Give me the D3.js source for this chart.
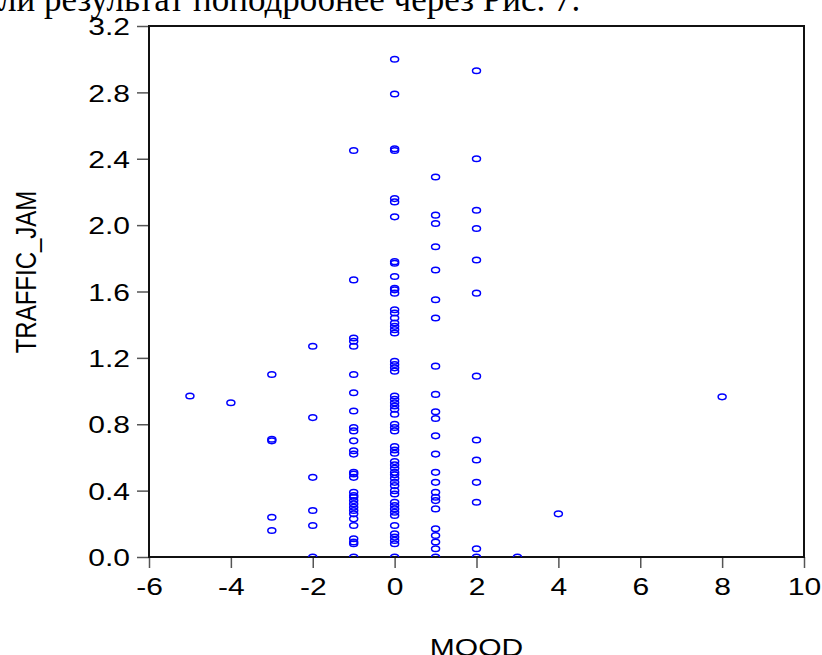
<html>
<head>
<style>
  body { margin: 0; background: #fff; }
  svg { display: block; }
  .label { font-family: Arial, "Liberation Sans", Helvetica, sans-serif; font-size: 24px; fill: #000; }
  .doc-text { font-family: "Times New Roman", "Liberation Serif", serif; font-size: 35px; fill: #000; }
</style>
<script src="https://d3js.org/d3.v7.min.js"></script>
</head>
<body>
<svg id="chart"></svg>
<script>
var width = 822;
var height = 655;
var plotLeft = 149, plotRight = 804, plotTop = 26, plotBottom = 557;
var stretch = 1.25; // the original graph was pasted wider than it was tall

// MOOD values that have observations
var moodLevels = [-5, -4, -3, -2, -1, 0, 1, 2, 3, 4, 8];

// TRAFFIC_JAM readings for each MOOD value
var jamMoodM5 = [0.97];
var jamMoodM4 = [0.93];
var jamMoodM3 = [1.10, 0.71, 0.70, 0.24, 0.16];
var jamMoodM2 = [1.27, 0.84, 0.48, 0.28, 0.19, 0.0];
var jamMoodM1 = [2.45, 1.67, 1.32, 1.30, 1.27, 1.10, 0.99, 0.88, 0.78, 0.76, 0.70, 0.64, 0.62,
                 0.51, 0.50, 0.48, 0.39, 0.37, 0.36, 0.34, 0.32, 0.30, 0.28, 0.26, 0.23, 0.19,
                 0.11, 0.09, 0.08, 0.0];
var jamMood0 = [3.00, 2.79, 2.46, 2.45, 2.16, 2.14, 2.05, 1.78, 1.77, 1.69, 1.62, 1.61, 1.59,
                1.49, 1.47, 1.44, 1.41, 1.39, 1.37, 1.35, 1.18, 1.16, 1.14, 1.12, 0.97, 0.95,
                0.93, 0.91, 0.89, 0.86, 0.80, 0.78, 0.76, 0.665, 0.645, 0.625, 0.575, 0.555,
                0.535, 0.51, 0.495, 0.475, 0.45, 0.43, 0.40, 0.38, 0.33, 0.31, 0.29, 0.27,
                0.25, 0.19, 0.14, 0.12, 0.10, 0.08, 0.0];
var jamMood1 = [2.29, 2.06, 2.01, 1.87, 1.73, 1.55, 1.44, 1.15, 0.98, 0.875, 0.835, 0.73, 0.62,
                0.51, 0.45, 0.39, 0.36, 0.34, 0.29, 0.17, 0.13, 0.09, 0.05, 0.0];
var jamMood2 = [2.93, 2.40, 2.09, 1.98, 1.79, 1.59, 1.09, 0.705, 0.585, 0.45, 0.33, 0.05, 0.0];
var jamMood3 = [0.0];
var jamMood4 = [0.26];
var jamMood8 = [0.965];

var jamColumns = [jamMoodM5, jamMoodM4, jamMoodM3, jamMoodM2, jamMoodM1, jamMood0,
                  jamMood1, jamMood2, jamMood3, jamMood4, jamMood8];

var xTicks = [-6, -4, -2, 0, 2, 4, 6, 8, 10];
var yTicks = [0.0, 0.4, 0.8, 1.2, 1.6, 2.0, 2.4, 2.8, 3.2];

var points = [];
moodLevels.forEach(function(mood, i) {
  jamColumns[i].forEach(function(jam) {
    points.push({mood: mood, jam: jam});
  });
});

var svg = d3.select("#chart")
  .attr("width", width)
  .attr("height", height);

var x = d3.scaleLinear().domain([-6, 10]).range([plotLeft, plotRight]);
var y = d3.scaleLinear().domain([0, 3.2]).range([plotBottom, plotTop]);

// plain hyphen for negatives, like the original
var hyphenFormat = function(d) { return String(d); };

// bit of the document text above the pasted graph, cut off by the crop
svg.append("text")
  .attr("class", "doc-text")
  .attr("x", -1)
  .attr("y", 11)
  .text("ли результат поподробнее через Рис. 7.");

svg.append("defs").append("clipPath")
    .attr("id", "plot-clip")
  .append("rect")
    .attr("x", plotLeft)
    .attr("y", plotTop)
    .attr("width", plotRight - plotLeft)
    .attr("height", plotBottom - plotTop);

// y axis
var yAxis = svg.append("g")
  .attr("transform", "translate(" + plotLeft + ",0)")
  .call(d3.axisLeft(y).tickValues(yTicks).tickFormat(d3.format(".1f")).tickSize(12));
yAxis.select(".domain").remove();
yAxis.selectAll(".tick line").attr("stroke", "#555").attr("stroke-width", 1.5);
yAxis.selectAll(".tick text")
  .attr("class", "label")
  .attr("x", -19 / stretch)
  .attr("dy", "0.36em")
  .attr("transform", "scale(" + stretch + ",1)");

// x axis
var xAxis = svg.append("g")
  .attr("transform", "translate(0," + plotBottom + ")")
  .call(d3.axisBottom(x).tickValues(xTicks).tickFormat(hyphenFormat).tickSize(11));
xAxis.select(".domain").remove();
xAxis.selectAll(".tick line").attr("stroke", "#555").attr("stroke-width", 1.5);
xAxis.selectAll(".tick text")
  .attr("class", "label")
  .attr("y", 38)
  .attr("dy", 0)
  .attr("transform", "scale(" + stretch + ",1)");

// frame
svg.append("rect")
  .attr("x", plotLeft)
  .attr("y", plotTop)
  .attr("width", plotRight - plotLeft)
  .attr("height", plotBottom - plotTop)
  .attr("fill", "none")
  .attr("stroke", "#111")
  .attr("stroke-width", 2);

// points
svg.append("g")
    .attr("clip-path", "url(#plot-clip)")
  .selectAll("ellipse")
  .data(points)
  .enter().append("ellipse")
    .attr("cx", function(d) { return x(d.mood); })
    .attr("cy", function(d) { return y(d.jam); })
    .attr("rx", 4)
    .attr("ry", 2.8)
    .attr("fill", "none")
    .attr("stroke", "#0000ff")
    .attr("stroke-width", 1.5);

// axis titles
svg.append("text")
  .attr("class", "label")
  .attr("text-anchor", "middle")
  .attr("transform", "translate(" + (plotLeft + plotRight) / 2 + ",656) scale(" + stretch + ",1)")
  .text("MOOD");

svg.append("text")
  .attr("class", "label")
  .attr("text-anchor", "middle")
  .attr("transform", "translate(36,272) scale(" + stretch + ",1) rotate(-90)")
  .text("TRAFFIC_JAM");
</script>
</body>
</html>
